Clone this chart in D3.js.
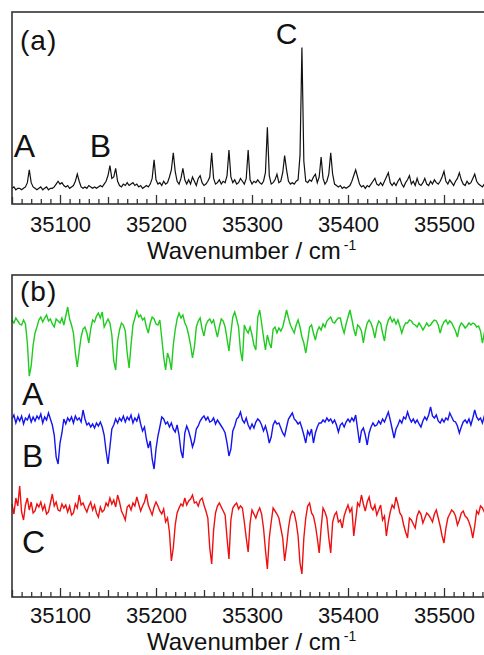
<!DOCTYPE html>
<html>
<head>
<meta charset="utf-8">
<script src="https://cdn.jsdelivr.net/npm/d3@7"></script>
<style>
  body { margin: 0; background: #fff; }
  svg text { font-family: Arial, "Liberation Sans", sans-serif; fill: #111; }
</style>
</head>
<body>
<div id="chart"></div>
<script>
// spectra sampled every 2 cm-1 starting at 35050 cm-1
const wnStart = 35050;
const wnStep = 2;
const majorTicks = [35100, 35200, 35300, 35400, 35500];

// (a) total spectrum, C peak = 100
const spectrum = [
  1,2,0,1,1,0,1,2,5,14,
  5,2,1,0,1,2,0,1,2,0,
  1,1,2,4,6,4,5,3,2,3,
  1,2,3,6,11,6,2,1,2,1,
  3,2,1,2,1,2,3,2,4,6,
  10,17,8,9,15,6,3,2,4,3,
  5,3,4,5,3,4,2,3,1,2,
  3,2,4,8,21,7,4,5,3,6,
  4,5,9,14,26,13,6,4,8,15,
  7,4,7,4,9,6,3,8,10,5,
  3,4,6,9,26,8,4,5,7,4,
  6,5,10,28,9,5,7,4,5,8,
  6,4,8,28,7,4,6,5,7,5,
  4,6,12,44,10,4,5,7,11,5,
  6,12,24,14,6,4,5,4,6,7,
  24,100,20,6,5,7,6,9,11,5,
  9,23,8,4,6,11,26,11,4,3,
  2,3,1,2,1,2,3,6,10,14,
  9,4,2,3,1,3,2,4,6,8,
  4,3,5,3,6,9,12,5,3,5,
  3,6,8,4,2,5,7,10,4,6,
  3,8,4,3,5,8,4,3,6,4,
  7,5,4,6,9,13,6,4,7,5,
  3,6,8,12,7,4,3,6,4,5,
  8,11,6,4,3,2,4,3,2,3,2
];

// (b) hole-burning traces probing A, B, C
const traceA = [
  1,-2,3,0,-3,-4,1,-3,-22,-55,
  -45,-24,-12,-6,1,4,-1,3,6,0,
  2,-3,-6,2,0,-2,3,-4,5,14,
  2,-4,-12,-32,-46,-30,-16,-8,-6,-12,
  -22,-8,1,-1,5,8,3,9,-6,-2,
  2,-2,-14,-40,-49,-20,-9,-2,-4,-10,
  -32,-47,-24,-4,3,10,4,6,1,3,
  -6,-12,-2,4,2,-3,-4,1,-17,-36,
  -49,-32,-38,-49,-24,-9,2,8,3,6,
  -2,-6,-14,-24,-37,-26,-6,0,3,-8,
  -15,-4,0,2,-2,1,-8,-16,-6,2,
  0,-6,-18,-30,-12,4,9,2,-6,-30,
  -40,-4,-9,-12,-6,-14,-24,-29,4,11,
  -2,-16,-29,-14,-22,-27,-8,-6,-12,-7,
  -10,-6,2,11,3,-4,-8,-12,-4,1,
  -6,-16,-22,-32,-20,-6,-4,-12,-19,-10,
  -6,-9,-3,-6,0,2,4,-1,-2,1,
  3,3,-6,-12,-3,4,11,2,-8,-15,
  -4,-6,-10,-22,-10,-2,1,-2,-8,-17,
  -6,0,-2,-12,-20,-6,1,4,-1,2,
  -3,1,-5,-12,-6,-2,-2,1,0,-3,
  -4,-6,-2,-5,-9,-6,-2,-5,-4,-1,
  1,0,-4,-12,-5,-1,1,-3,0,-2,
  -6,-10,-16,-6,-2,-4,-7,-5,-2,-4,
  -2,-3,-6,-5,-10,-22,-12,-4,-2,0,-3
];
const traceB = [
  2,6,-2,4,0,5,-3,3,1,6,
  -1,4,0,5,2,7,-2,4,1,8,
  2,-4,-14,-36,-43,-22,-12,2,-3,3,
  0,4,-2,5,1,3,-1,11,2,-4,
  -2,-6,-3,-7,-2,-5,-1,-6,-14,-30,
  -43,-26,-8,-4,2,-2,3,0,5,-1,
  4,1,6,-2,3,0,6,-3,-10,-6,
  -18,-27,-20,-38,-48,-28,-15,-6,4,2,
  -3,-1,-6,-2,-8,-11,-4,-14,-30,-37,
  -12,-5,-10,-17,-26,-20,-8,-5,0,3,
  5,1,4,-1,0,3,-3,1,-2,-5,
  -8,-12,-22,-35,-28,-10,-5,2,4,9,
  1,-2,3,-4,-8,-3,-7,-1,2,0,
  -4,-10,-5,-12,-22,-16,-4,0,-3,-2,
  -7,-12,-15,-6,2,5,8,2,0,-3,
  -1,-7,-14,-22,-10,-14,-8,-22,-12,-6,
  -2,-2,1,-1,3,0,2,-2,1,-4,
  -11,-4,-2,-6,-1,2,-1,3,0,6,
  -8,-22,-10,-7,-14,-24,-12,-6,-2,-5,
  -4,0,-3,2,-1,4,9,1,-8,-17,
  -8,-4,1,-2,4,2,9,3,-1,2,
  -2,1,-3,-6,0,4,1,6,14,5,
  3,6,0,-2,2,-1,3,1,8,4,
  0,-1,-5,-12,-6,-1,1,-2,2,-4,
  3,11,4,1,3,-2,5,2,-1,3,0
];
const traceC = [
  4,-6,10,2,22,-4,-12,3,10,-2,
  6,-5,-3,4,1,6,-2,3,-6,-4,
  5,14,2,6,-2,-3,4,0,3,-4,
  2,-7,-5,4,0,13,3,5,0,-4,
  2,6,-2,3,-5,-9,1,-4,-2,5,
  2,10,4,8,1,13,6,-3,-7,-12,
  1,3,-2,5,2,11,4,-3,2,6,
  14,3,-2,-7,1,6,2,-3,-6,-1,
  -14,-10,-24,-53,-40,-17,-5,0,4,2,
  10,3,7,9,13,5,6,2,8,10,
  3,-3,-10,-40,-56,-22,-5,2,5,1,
  -3,-7,-30,-51,-12,0,3,5,-1,2,
  0,-14,-30,-44,-15,-2,-6,-10,-4,0,
  -6,-20,-42,-61,-30,-14,0,-3,-6,-10,
  -20,-30,-53,-38,-20,-8,-3,-5,-14,-28,
  -55,-66,-30,-10,2,5,-5,-8,-17,-30,
  -45,-20,0,-4,-10,-30,-45,-14,-7,-4,
  -14,-12,-20,-8,-2,3,-4,0,-28,-12,
  5,2,13,4,-3,6,11,1,-2,3,
  -7,-2,3,-12,-8,-28,-14,-4,3,0,
  11,4,-5,-8,-17,-24,-30,-10,-12,-16,
  -20,-8,-3,-6,-15,-10,-5,-7,-10,-14,
  -6,-2,-10,-18,-28,-35,-20,-10,-6,-2,
  -4,-8,-17,-12,-5,-3,-8,-10,-14,-20,
  -30,-18,-3,-6,2,0,-4,3,-2,1,-1
];
const traceOffsets = [0, -100, -187];
const traceNames = ["A", "B", "C"];
const peakLabelWn = [35063, 35142, 35336];

const width = 484, height = 655;
const wn = spectrum.map((d, i) => wnStart + i * wnStep);

const svg = d3.select("#chart").append("svg")
  .attr("width", width)
  .attr("height", height);

const x = d3.scaleLinear().domain([35050, 35550]).range([12, 492]);
const yA = d3.scaleLinear().domain([-10, 125]).range([204, 12]);
const yB = d3.scaleLinear().domain([-276, 46]).range([597, 275]);

function drawAxis(bottom, labelDy, titleY) {
  const minor = d3.range(35050, 35551, 10).filter(v => v % 50 !== 0);
  const mid = d3.range(35050, 35551, 100);
  svg.append("g")
    .attr("transform", "translate(0," + bottom + ")")
    .call(d3.axisBottom(x).tickValues(minor).tickSize(-5).tickFormat(""))
    .call(g => g.select(".domain").remove());
  svg.append("g")
    .attr("transform", "translate(0," + bottom + ")")
    .call(d3.axisBottom(x).tickValues(mid).tickSize(-7).tickFormat(""))
    .call(g => g.select(".domain").remove());
  const major = svg.append("g")
    .attr("transform", "translate(0," + bottom + ")")
    .call(d3.axisBottom(x).tickValues(majorTicks).tickSize(-9).tickFormat(d3.format("d")))
    .call(g => g.select(".domain").remove());
  major.selectAll("text")
    .attr("y", labelDy)
    .attr("dy", 0)
    .attr("font-size", 22)
    .attr("font-family", "Arial, 'Liberation Sans', sans-serif")
    .attr("fill", "#111");
  svg.selectAll(".tick line").attr("stroke", "#333").attr("stroke-width", 1.3);

  const title = svg.append("text")
    .attr("x", 147)
    .attr("y", titleY)
    .attr("font-size", 24)
    .text("Wavenumber / cm");
  title.append("tspan")
    .attr("dx", 3)
    .attr("dy", -9)
    .attr("font-size", 14)
    .text("-1");
}

function frame(top, bottom) {
  svg.append("rect")
    .attr("x", 12)
    .attr("y", top)
    .attr("width", 480)
    .attr("height", bottom - top)
    .attr("fill", "none")
    .attr("stroke", "#333")
    .attr("stroke-width", 1.6);
}

// panel (a)
const lineA = d3.line()
  .x((d, i) => x(wn[i]))
  .y(d => yA(d));

svg.append("path")
  .datum(spectrum)
  .attr("fill", "none")
  .attr("stroke", "#111")
  .attr("stroke-width", 1.2)
  .attr("d", lineA);

frame(12, 204);
drawAxis(204, 28, 259);

svg.append("text").attr("x", 20).attr("y", 50).attr("font-size", 28)
  .attr("letter-spacing", 1).text("(a)");

svg.selectAll(".peakLabel")
  .data(traceNames)
  .join("text")
  .attr("class", "peakLabel")
  .attr("x", (d, i) => x(peakLabelWn[i]))
  .attr("y", (d, i) => i === 2 ? 44 : 157)
  .attr("text-anchor", "middle")
  .attr("font-size", (d, i) => i === 2 ? 30 : 32)
  .text(d => d);

// panel (b)
const traces = [
  { name: "A", values: traceA, color: "#1ecb1e" },
  { name: "B", values: traceB, color: "#1414ee" },
  { name: "C", values: traceC, color: "#ee1010" }
];
traces.forEach((t, k) => {
  const line = d3.line()
    .x((d, i) => x(wn[i]))
    .y(d => yB(d + traceOffsets[k]));
  svg.append("path")
    .datum(t.values)
    .attr("fill", "none")
    .attr("stroke", t.color)
    .attr("stroke-width", 1.4)
    .attr("d", line);
});

frame(275, 597);
drawAxis(597, 25.5, 649.5);

svg.append("text").attr("x", 20).attr("y", 301).attr("font-size", 28)
  .attr("letter-spacing", 1).text("(b)");

const traceLabelY = [405, 467, 553];
svg.selectAll(".traceLabel")
  .data(traceNames)
  .join("text")
  .attr("class", "traceLabel")
  .attr("x", 22)
  .attr("y", (d, i) => traceLabelY[i])
  .attr("font-size", 32)
  .text(d => d);
</script>
</body>
</html>
